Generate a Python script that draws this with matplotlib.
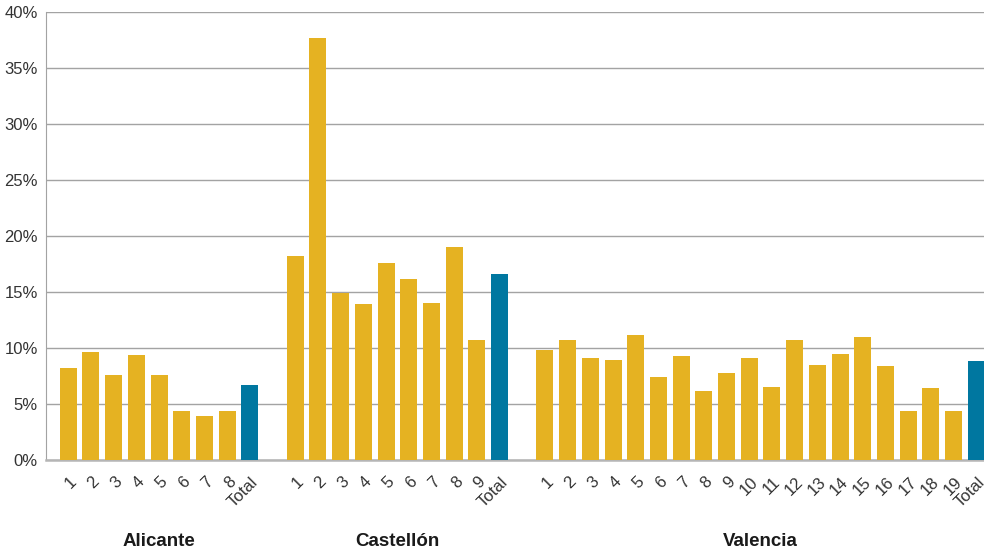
import matplotlib.pyplot as plt
import matplotlib.transforms as mtransforms
from matplotlib.ticker import FuncFormatter

plt.rcParams['font.family'] = ['Liberation Sans', 'DejaVu Sans']

# Percentage per area, grouped by province (last value = province total)
provinces = ['Alicante', 'Castellón', 'Valencia']
alicante = [8.2, 9.6, 7.6, 9.4, 7.6, 4.4, 3.9, 4.4]
alicante_total = 6.7
castellon = [18.2, 37.7, 14.9, 13.9, 17.6, 16.2, 14.0, 19.0, 10.7]
castellon_total = 16.6
valencia = [9.8, 10.7, 9.1, 8.9, 11.2, 7.4, 9.3, 6.2, 7.8, 9.1, 6.5, 10.7,
            8.5, 9.5, 11.0, 8.4, 4.4, 6.4, 4.4]
valencia_total = 8.8

groups = [(alicante, alicante_total), (castellon, castellon_total),
          (valencia, valencia_total)]

gold = '#E5B222'
blue = '#0077A0'
grid_c = '#a3a3a3'
text_c = '#333333'

fig = plt.figure(figsize=(9.84, 5.54), dpi=100)
ax = fig.add_axes([46 / 984, 94 / 554, 938 / 984, 448 / 554])

xs, heights, colors, labels, centers = [], [], [], [], []
pos = 0
for vals, total in groups:
    start = pos
    for i, v in enumerate(vals):
        xs.append(pos)
        heights.append(v)
        colors.append(gold)
        labels.append(str(i + 1))
        pos += 1
    xs.append(pos)
    heights.append(total)
    colors.append(blue)
    labels.append('Total')
    centers.append((start + pos) / 2)
    pos += 2  # one empty slot between provinces

ax.bar(xs, heights, width=0.75, color=colors, zorder=3)

ax.set_ylim(0, 40)
ax.set_xlim(-0.98, 40.34)
ax.set_yticks(range(0, 41, 5))
ax.yaxis.set_major_formatter(FuncFormatter(lambda v, p: f'{v:.0f}%'))
ax.grid(axis='y', color=grid_c, linewidth=1.0, zorder=0)

for s in ['top', 'right']:
    ax.spines[s].set_visible(False)
ax.spines['left'].set_color(grid_c)
ax.spines['bottom'].set_color('#b5b5b5')
ax.spines['bottom'].set_linewidth(1.8)
ax.tick_params(axis='both', length=0, labelsize=12, colors=text_c)
ax.tick_params(axis='y', pad=6)

ax.set_xticks(xs)
ax.set_xticklabels(labels, rotation=45, ha='right', va='center',
                   rotation_mode='anchor')
ax.tick_params(axis='x', pad=14)
offset = mtransforms.ScaledTranslation(6 / 100, 0, fig.dpi_scale_trans)
for lbl in ax.get_xticklabels():
    lbl.set_transform(lbl.get_transform() + offset)

trans = mtransforms.blended_transform_factory(ax.transData, fig.transFigure)
for name, c in zip(provinces, centers):
    ax.text(c, 13 / 554, name, transform=trans, ha='center', va='center',
            fontsize=13.5, fontweight='bold', color='#1a1a1a')

fig.savefig('out.png', dpi=100)
